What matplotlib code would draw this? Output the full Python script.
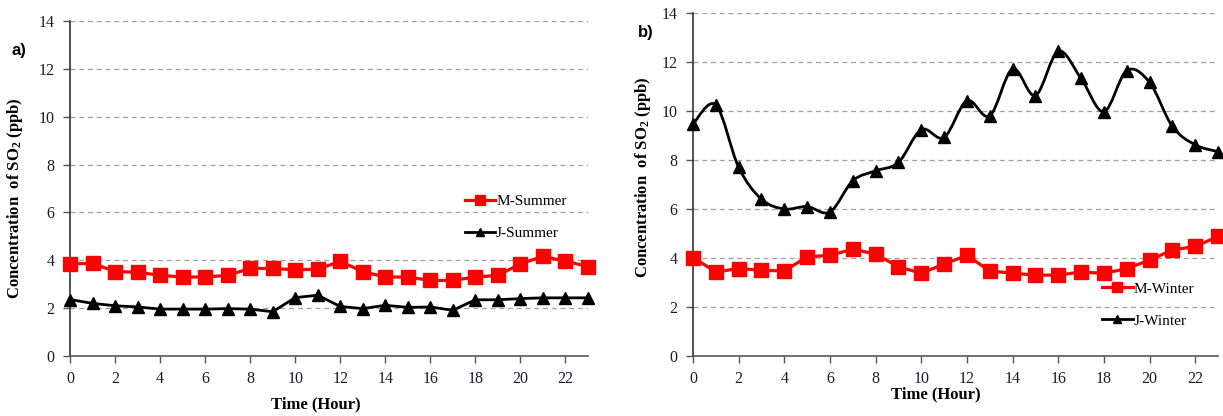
import numpy as np
import matplotlib
matplotlib.use('Agg')
import matplotlib.pyplot as plt
from matplotlib.path import Path
from matplotlib.patches import PathPatch
from matplotlib.lines import Line2D

plt.rcParams['font.family'] = 'Liberation Serif'
plt.rcParams['mathtext.fontset'] = 'custom'
plt.rcParams['mathtext.rm'] = 'Liberation Serif:bold'
plt.rcParams['mathtext.default'] = 'rm'

# hours of the day
hours = list(range(24))

# summer SO2 (ppb)
m_summer = [3.85, 3.87, 3.53, 3.50, 3.37, 3.30, 3.30, 3.37, 3.66, 3.66, 3.60, 3.63,
            3.95, 3.53, 3.30, 3.30, 3.16, 3.16, 3.30, 3.37, 3.85, 4.17, 3.96, 3.74]
j_summer = [2.36, 2.20, 2.10, 2.05, 1.96, 1.96, 1.96, 1.98, 1.96, 1.85, 2.44, 2.54,
            2.07, 1.98, 2.12, 2.03, 2.05, 1.91, 2.35, 2.35, 2.40, 2.43, 2.43, 2.43]

# winter SO2 (ppb)
m_winter = [4.02, 3.43, 3.57, 3.50, 3.47, 4.05, 4.11, 4.36, 4.16, 3.64, 3.38, 3.75,
            4.11, 3.47, 3.38, 3.30, 3.30, 3.43, 3.37, 3.57, 3.91, 4.33, 4.47, 4.88]
j_winter = [9.47, 10.25, 7.70, 6.40, 6.00, 6.10, 5.88, 7.15, 7.56, 7.90, 9.24, 8.92,
            10.42, 9.80, 11.72, 10.63, 12.44, 11.33, 9.97, 11.65, 11.17, 9.37, 8.62, 8.34]

xticks = list(range(0, 24, 2))
yticks = list(range(0, 15, 2))

RED = '#ff0000'
BLACK = '#000000'


def smooth_path(x, y):
    # excel style smoothed line (bezier through every point)
    x = np.asarray(x, float)
    y = np.asarray(y, float)
    P = np.column_stack([x, y])
    n = len(P)
    verts = [P[0]]
    codes = [Path.MOVETO]
    for i in range(n - 1):
        p0 = P[i - 1] if i > 0 else P[i]
        p1 = P[i]
        p2 = P[i + 1]
        p3 = P[i + 2] if i + 2 < n else P[i + 1]
        c1 = p1 + (p2 - p0) / 6.0
        c2 = p2 - (p3 - p1) / 6.0
        verts += [c1, c2, p2]
        codes += [Path.CURVE4] * 3
    return Path(verts, codes)


def style_axes(ax):
    ax.set_xlim(0, 23)
    ax.set_ylim(0, 14)
    ax.set_xticks(xticks)
    ax.set_yticks(yticks)
    for s in ['top', 'right']:
        ax.spines[s].set_visible(False)
    ax.spines['left'].set_color('#333333')
    ax.spines['bottom'].set_color('#555555')
    ax.spines['left'].set_linewidth(1.2)
    ax.spines['bottom'].set_linewidth(1.2)
    ax.tick_params(axis='both', direction='out', length=5, width=1.0,
                   colors='#555555', labelcolor='#1a1a2e', labelsize=11.5, pad=6)
    for yv in yticks[1:]:
        ax.axhline(yv, color='#a0a0a0', lw=0.9, ls=(0, (4, 3)), zorder=0)
    ax.set_xlabel('Time (Hour)', fontsize=12, fontweight='bold')
    ax.set_ylabel('Concentration  of SO$_{2}$ (ppb)', fontsize=12, fontweight='bold')


fig = plt.figure(figsize=(12.23, 4.16), dpi=100)
ax1 = fig.add_axes([70 / 1223, 60 / 416, 518 / 1223, 335 / 416])
ax2 = fig.add_axes([693 / 1223, 60 / 416, 525 / 1223, 343 / 416])

# a) summer
style_axes(ax1)
ax1.plot(hours, m_summer, color=RED, lw=2.3, marker='s', ms=10, clip_on=False,
         label='M-Summer', zorder=3)
ax1.plot(hours, j_summer, color=BLACK, lw=2.0, marker='^', ms=9, clip_on=False,
         label='J-Summer', zorder=3)
ax1.legend(loc='upper left', bbox_to_anchor=(0.762, 0.483), frameon=False,
           fontsize=11, handlelength=2.0, handletextpad=0.05, labelspacing=1.2,
           borderpad=0, borderaxespad=0, markerscale=0.65)
ax1.yaxis.set_label_coords(-0.087, 0.47)
ax1.xaxis.set_label_coords(0.475, -0.122)
fig.text(12 / 1223, 1 - 50 / 416, 'a)', fontsize=12, fontweight='bold',
         family='Liberation Sans', va='center', ha='left')

# b) winter
style_axes(ax2)
ax2.plot(hours, m_winter, color=RED, lw=2.3, marker='s', ms=10, clip_on=False,
         label='M-Winter', zorder=3)
ax2.add_patch(PathPatch(smooth_path(hours, j_winter), fill=False, ec=BLACK, lw=2.0,
                        transform=ax2.transData, zorder=3, clip_on=False))
ax2.plot(hours, j_winter, ls='none', color=BLACK, marker='^', ms=9, clip_on=False,
         zorder=4)
h_red = Line2D([], [], color=RED, lw=2.3, marker='s', ms=10)
h_blk = Line2D([], [], color=BLACK, lw=2.0, marker='^', ms=9)
ax2.legend([h_red, h_blk], ['M-Winter', 'J-Winter'], loc='upper left',
           bbox_to_anchor=(0.779, 0.216), frameon=False, fontsize=11,
           handlelength=2.0, handletextpad=0.05, labelspacing=1.2,
           borderpad=0, borderaxespad=0, markerscale=0.65)
ax2.yaxis.set_label_coords(-0.076, 0.52)
ax2.xaxis.set_label_coords(0.463, -0.09)
fig.text(638 / 1223, 1 - 33 / 416, 'b)', fontsize=12, fontweight='bold',
         family='Liberation Sans', va='center', ha='left')

fig.savefig('out.png', dpi=100)
